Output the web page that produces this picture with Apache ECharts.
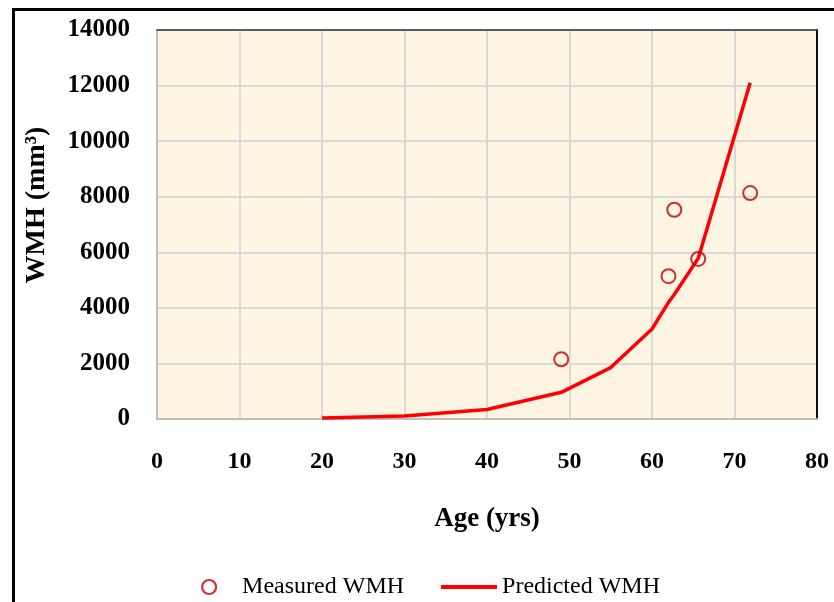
<!DOCTYPE html>
<html>
<head>
<meta charset="utf-8">
<script src="https://cdn.jsdelivr.net/npm/echarts@6/dist/echarts.min.js"></script>
<style>
  html, body { margin: 0; padding: 0; background: #fff; }
  #chart { width: 834px; height: 602px; }
</style>
</head>
<body>
<div id="chart"></div>
<script>
// Measured white-matter hyperintensity volumes (age in years, volume in mm³)
const measuredAge = [49, 62, 62.7, 65.6, 71.9];
const measuredWMH = [2150, 5140, 7530, 5760, 8130];

// Model prediction curve
const predictedAge = [20, 30, 40, 49, 55, 60, 62, 62.7, 65.6, 71.9];
const predictedWMH = [40, 110, 340, 960, 1850, 3240, 4200, 4480, 5780, 12100];

const xTicks = [0, 80, 10];        // min, max, interval
const yTicks = [0, 14000, 2000];   // min, max, interval

const serif = '"Liberation Serif", "Times New Roman", serif';
const plotBg = '#fdf4e1';

const chart = echarts.init(document.getElementById('chart'));

const measured = measuredAge.map((a, i) => [a, measuredWMH[i]]);
const predicted = predictedAge.map((a, i) => [a, predictedWMH[i]]);

const plainNumber = v => String(v);

chart.setOption({
  backgroundColor: '#ffffff',
  animation: false,
  graphic: [
    {
      type: 'rect',
      shape: { x: 13.5, y: 9.5, width: 900, height: 700 },
      style: { fill: 'none', stroke: '#000', lineWidth: 3 },
      z: 0
    },
    {
      type: 'text',
      x: 37, y: 205,
      rotation: Math.PI / 2,
      style: {
        text: 'WMH (mm³)',
        font: 'bold 28px ' + serif,
        fill: '#000',
        align: 'center',
        verticalAlign: 'middle'
      }
    }
  ],
  grid: {
    left: 157, top: 30, right: 17, bottom: 183,
    show: true,
    backgroundColor: plotBg,
    borderWidth: 0
  },
  legend: {
    bottom: -2,
    left: 196,
    itemGap: 37,
    itemWidth: 56,
    itemHeight: 14,
    symbolKeepAspect: true,
    textStyle: { fontFamily: serif, fontSize: 24, color: '#000' },
    data: [
      { name: 'Measured WMH', icon: 'circle', itemStyle: { color: '#ffffff', borderColor: '#c00000', borderWidth: 2.2 } },
      { name: 'Predicted WMH', icon: 'path://M0,0 L56,0 L56,4 L0,4 Z', itemStyle: { color: '#ff0000', borderWidth: 0 } }
    ]
  },
  xAxis: [
    {
      type: 'value',
      min: xTicks[0], max: xTicks[1], interval: xTicks[2],
      name: 'Age (yrs)',
      nameLocation: 'middle',
      nameGap: 87,
      nameTextStyle: { fontFamily: serif, fontSize: 27, fontWeight: 'bold', color: '#000' },
      axisLine: { show: true, onZero: false, lineStyle: { color: '#bfbfbf', width: 2 } },
      axisTick: { show: false },
      axisLabel: { margin: 31, fontFamily: serif, fontSize: 24, fontWeight: 'bold', color: '#000', formatter: plainNumber },
      splitLine: { show: true, lineStyle: { color: '#d9d9d9', width: 2 } }
    },
    {
      type: 'value', position: 'top',
      min: xTicks[0], max: xTicks[1], interval: xTicks[2],
      axisLine: { show: true, onZero: false, lineStyle: { color: '#333', width: 1.5 } },
      axisTick: { show: false }, axisLabel: { show: false }, splitLine: { show: false }
    }
  ],
  yAxis: [
    {
      type: 'value',
      min: yTicks[0], max: yTicks[1], interval: yTicks[2],
      axisLine: { show: true, onZero: false, lineStyle: { color: '#bfbfbf', width: 2 } },
      axisTick: { show: false },
      axisLabel: { margin: 27, fontFamily: serif, fontSize: 25, fontWeight: 'bold', color: '#000', formatter: plainNumber },
      splitLine: { show: true, lineStyle: { color: '#d9d9d9', width: 2 } }
    },
    {
      type: 'value', position: 'right',
      min: yTicks[0], max: yTicks[1], interval: yTicks[2],
      axisLine: { show: true, onZero: false, lineStyle: { color: '#111', width: 2 } },
      axisTick: { show: false }, axisLabel: { show: false }, splitLine: { show: false }
    }
  ],
  series: [
    {
      name: 'Measured WMH',
      type: 'scatter',
      data: measured,
      symbol: 'circle',
      symbolSize: 14,
      itemStyle: { color: 'transparent', borderColor: '#c00000', borderWidth: 2 },
      z: 3
    },
    {
      name: 'Predicted WMH',
      type: 'line',
      data: predicted,
      showSymbol: false,
      symbol: 'none',
      lineStyle: { color: '#ff0000', width: 3.5 },
      itemStyle: { color: '#ff0000' },
      z: 2
    }
  ]
});
</script>
</body>
</html>
